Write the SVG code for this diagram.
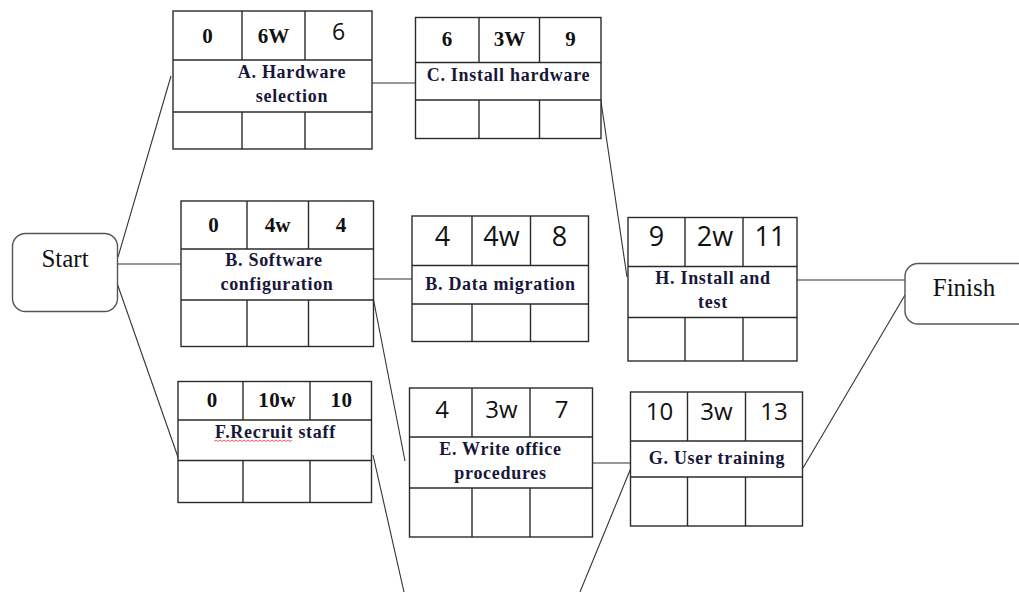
<svg xmlns="http://www.w3.org/2000/svg" width="1019" height="592" viewBox="0 0 1019 592">
<style>
.box{fill:#fff;stroke:#2b2b2b;stroke-width:1.4}
.cell{fill:none;stroke:#2b2b2b;stroke-width:1.4}
.term{fill:#fff;stroke:#555;stroke-width:1.4}
.con{fill:none;stroke:#333;stroke-width:1.1}
.bn{font-family:"Liberation Serif",serif;font-weight:bold;font-size:21px;fill:#111;text-anchor:middle}
.sn{font-family:"Open Sans","Noto Sans",sans-serif;fill:#111;text-anchor:middle}
.lb{font-family:"Liberation Serif",serif;font-weight:bold;font-size:18px;letter-spacing:0.7px;fill:#17173a;text-anchor:middle}
.tt{font-family:"Liberation Serif",serif;font-size:25px;fill:#111;text-anchor:middle}
</style>
<g id="connectors">
<line class="con" x1="118" y1="257" x2="171" y2="76"/>
<line class="con" x1="117" y1="264" x2="181" y2="264"/>
<line class="con" x1="117" y1="283" x2="179" y2="460"/>
<line class="con" x1="372" y1="83" x2="415" y2="83"/>
<line class="con" x1="372" y1="279" x2="412" y2="279"/>
<line class="con" x1="373" y1="297" x2="405" y2="461"/>
<line class="con" x1="599" y1="88" x2="627" y2="277"/>
<line class="con" x1="793" y1="280" x2="906" y2="280"/>
<line class="con" x1="593" y1="463" x2="634" y2="463"/>
<line class="con" x1="803" y1="468" x2="905" y2="295"/>
<line class="con" x1="373" y1="455" x2="404" y2="592"/>
<line class="con" x1="580" y1="592" x2="633" y2="463"/>
</g>
<g id="start">
<rect class="term" x="12.5" y="233.5" width="105" height="78" rx="13"/>
<text class="tt" x="65" y="267">Start</text>
</g>
<g id="finish">
<rect class="term" x="905" y="263.5" width="130" height="60.5" rx="13"/>
<text class="tt" x="964" y="296">Finish</text>
</g>
<g id="nodeA">
<rect class="box" x="173" y="11" width="199" height="138"/>
<path class="cell" d="M173 60H372M173 112H372M242 11V60M305 11V60M242 112V149M305 112V149"/>
<text class="bn" x="207.5" y="43" font-size="22">0</text>
<text class="bn" x="273.5" y="43" font-size="19">6W</text>
<text class="sn" x="338.5" y="40" font-size="23">6</text>
<text class="lb" x="292" y="78">A. Hardware</text>
<text class="lb" x="292" y="102">selection</text>
</g>
<g id="nodeC">
<rect class="box" x="415.5" y="17.5" width="185.5" height="121"/>
<path class="cell" d="M415.5 62.5H601M415.5 100H601M479 17.5V62.5M539.5 17.5V62.5M479 100V138.5M539.5 100V138.5"/>
<text class="bn" x="447" y="46">6</text>
<text class="bn" x="509.5" y="46" font-size="19">3W</text>
<text class="bn" x="570.5" y="46">9</text>
<text class="lb" x="508.5" y="81">C. Install hardware</text>
</g>
<g id="nodeB">
<rect class="box" x="181" y="201" width="192.5" height="145.5"/>
<path class="cell" d="M181 249H373.5M181 300H373.5M247 201V249M308.5 201V249M247 300V346.5M308.5 300V346.5"/>
<text class="bn" x="213.5" y="232">0</text>
<text class="bn" x="277.5" y="232">4w</text>
<text class="bn" x="341" y="232">4</text>
<text class="lb" x="274" y="266">B. Software</text>
<text class="lb" x="277" y="290">configuration</text>
</g>
<g id="nodeDM">
<rect class="box" x="412" y="216" width="176.5" height="125.5"/>
<path class="cell" d="M412 265.5H588.5M412 304H588.5M472 216V265.5M530.5 216V265.5M472 304V341.5M530.5 304V341.5"/>
<text class="sn" x="442.5" y="246" font-size="27">4</text>
<text class="sn" x="501.5" y="246" font-size="27">4w</text>
<text class="sn" x="559.5" y="246" font-size="27">8</text>
<text class="lb" x="500.5" y="289.5">B. Data migration</text>
</g>
<g id="nodeH">
<rect class="box" x="628" y="217.5" width="169" height="143.5"/>
<path class="cell" d="M628 266.5H797M628 317.5H797M685 217.5V266.5M743 217.5V266.5M685 317.5V361M743 317.5V361"/>
<text class="sn" x="656.5" y="246" font-size="27">9</text>
<text class="sn" x="715" y="246" font-size="27">2w</text>
<text class="sn" x="770" y="246" font-size="27">11</text>
<text class="lb" x="713" y="284">H. Install and</text>
<text class="lb" x="713" y="308">test</text>
</g>
<g id="nodeF">
<rect class="box" x="178" y="381.5" width="193.5" height="121"/>
<path class="cell" d="M178 420H371.5M178 460.5H371.5M243 381.5V420M310 381.5V420M243 460.5V502.5M310 460.5V502.5"/>
<text class="bn" x="212" y="407">0</text>
<text class="bn" x="277" y="407" letter-spacing="0.5">10w</text>
<text class="bn" x="341.5" y="407" letter-spacing="0.5">10</text>
<text class="lb" x="275.5" y="438">F.Recruit staff</text>
<path d="M214 441.5l2-1.5l2 1.5l2-1.5l2 1.5l2-1.5l2 1.5l2-1.5l2 1.5l2-1.5l2 1.5l2-1.5l2 1.5l2-1.5l2 1.5l2-1.5l2 1.5l2-1.5l2 1.5l2-1.5l2 1.5l2-1.5l2 1.5l2-1.5l2 1.5l2-1.5l2 1.5l2-1.5l2 1.5l2-1.5l2 1.5l2-1.5l2 1.5l2-1.5l2 1.5l2-1.5l2 1.5l2-1.5l2 1.5l2-1.5" fill="none" stroke="#e03030" stroke-width="0.8"/>
</g>
<g id="nodeE">
<rect class="box" x="409.5" y="388" width="183" height="149"/>
<path class="cell" d="M409.5 437H592.5M409.5 488H592.5M472 388V437M530 388V437M472 488V537M530 488V537"/>
<text class="sn" x="442" y="418" font-size="24">4</text>
<text class="sn" x="501.5" y="418" font-size="24">3w</text>
<text class="sn" x="561.5" y="418" font-size="24">7</text>
<text class="lb" x="500.5" y="455">E. Write office</text>
<text class="lb" x="500.5" y="478.5">procedures</text>
</g>
<g id="nodeG">
<rect class="box" x="630.5" y="392" width="172" height="134"/>
<path class="cell" d="M630.5 441H802.5M630.5 477H802.5M687.5 392V441M745.5 392V441M687.5 477V526M745.5 477V526"/>
<text class="sn" x="659.5" y="420" font-size="24">10</text>
<text class="sn" x="716.5" y="420" font-size="24">3w</text>
<text class="sn" x="774" y="420" font-size="24">13</text>
<text class="lb" x="717" y="464">G. User training</text>
</g>
</svg>
